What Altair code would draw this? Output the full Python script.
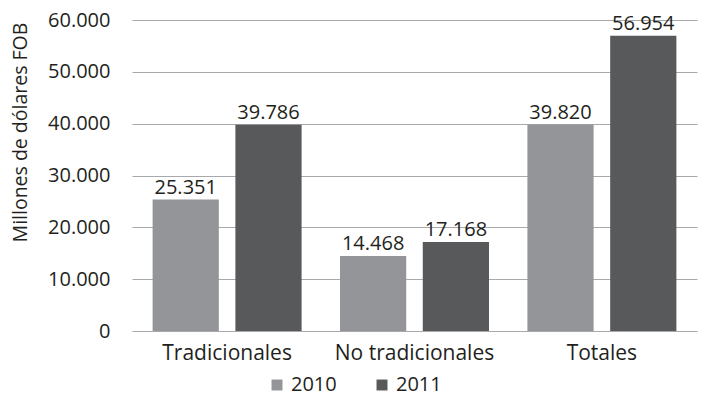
import altair as alt
import pandas as pd

categories = ["Tradicionales", "No tradicionales", "Totales"]
years = ["2010", "2011"]
values_2010 = [25351, 14468, 39820]
values_2011 = [39786, 17168, 56954]

rows = []
for c, v in zip(categories, values_2010):
    rows.append({"cat": c, "year": "2010", "value": v})
for c, v in zip(categories, values_2011):
    rows.append({"cat": c, "year": "2011", "value": v})
df = pd.DataFrame(rows)
df["label"] = df["value"].map(lambda v: f"{v:,}".replace(",", "."))

FONT = "Open Sans"
TXT = "#231f20"

base = alt.Chart(df).encode(
    x=alt.X("cat:N", sort=categories,
            scale=alt.Scale(paddingInner=0.205, paddingOuter=0.11),
            axis=alt.Axis(title=None, labelAngle=0, labelFontSize=21, labelColor=TXT,
                          labelFont=FONT, ticks=False, domain=False, labelPadding=11)),
    xOffset=alt.XOffset("year:N", sort=years,
                        scale=alt.Scale(paddingInner=0.2, paddingOuter=0)),
)

bars = base.mark_bar().encode(
    y=alt.Y("value:Q", scale=alt.Scale(domain=[0, 60000]),
            axis=alt.Axis(title="Millones de dólares FOB", values=[0, 10000, 20000, 30000, 40000, 50000, 60000],
                          labelExpr="replace(format(datum.value, ','), ',', '.')",
                          labelFontSize=20, labelColor=TXT, labelFont=FONT,
                          titleFontSize=19.5, titleColor=TXT, titleFont=FONT, titleFontWeight="normal",
                          titleX=-112, titleY=112, titleAngle=270, titleAlign="center",
                          titleBaseline="middle",
                          ticks=False, domain=False, labelPadding=22,
                          gridColor="#a7a9ac", gridWidth=1.2)),
    color=alt.Color("year:N", sort=years,
                    scale=alt.Scale(domain=years, range=["#939598", "#58595b"]),
                    legend=alt.Legend(title=None, orient="none", legendX=135, legendY=355,
                                      direction="horizontal", symbolType="square", symbolSize=120,
                                      labelFontSize=20, labelColor=TXT, labelFont=FONT,
                                      labelOffset=4, columnPadding=35, symbolOpacity=1)),
)

text = base.mark_text(baseline="bottom", dy=-2, fontSize=20, font=FONT, color=TXT).encode(
    y="value:Q",
    text="label:N",
)

chart = (bars + text).properties(
    width=565, height=311,
    autosize=alt.AutoSizeParams(type="none"),
    padding={"left": 124, "top": 12, "right": 8, "bottom": 64},
).configure_view(stroke=None)

chart.save("out.html", embed_options={"renderer": "svg", "actions": False})
